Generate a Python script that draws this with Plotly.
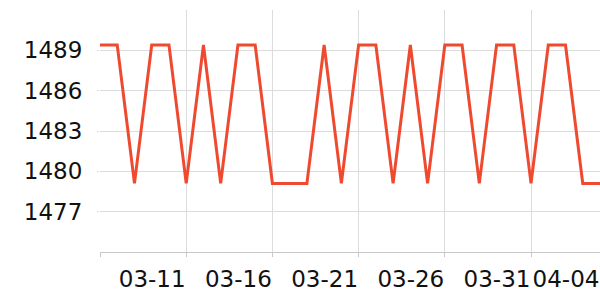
import plotly.graph_objects as go

dates = ["2024-03-06","2024-03-07","2024-03-08","2024-03-09","2024-03-10","2024-03-11",
         "2024-03-12","2024-03-13","2024-03-14","2024-03-15","2024-03-16","2024-03-17",
         "2024-03-18","2024-03-19","2024-03-20","2024-03-21","2024-03-22","2024-03-23",
         "2024-03-24","2024-03-25","2024-03-26","2024-03-27","2024-03-28","2024-03-29",
         "2024-03-30","2024-03-31","2024-04-01","2024-04-02","2024-04-03","2024-04-04"]
H, L = 1489.4, 1479.1
values = [H, H, L, H, H, L, H, L, H, H, L, L, L, H, L, H, H, L, H, L, H, H, L, H, H, L, H, H, L, L]

x_tickvals = ["2024-03-06","2024-03-11","2024-03-16","2024-03-21","2024-03-26","2024-03-31","2024-04-04"]
x_ticktext = ["", "03-11", "03-16", "03-21", "03-26", "03-31", "04-04"]
y_tickvals = [1477, 1480, 1483, 1486, 1489]

fig = go.Figure(go.Scatter(x=dates, y=values, mode="lines",
                           line=dict(color="#ef4a2f", width=3), hoverinfo="skip"))

fig.update_layout(
    width=600, height=300, margin=dict(l=100, r=0, t=10, b=48),
    paper_bgcolor="white", plot_bgcolor="white", showlegend=False,
    font=dict(family="DejaVu Sans", size=23, color="#111"),
)
fig.update_xaxes(range=["2024-03-06", "2024-04-04"], tickvals=x_tickvals, ticktext=x_ticktext,
                 showgrid=True, gridcolor="#dcdcdc", gridwidth=1,
                 showline=True, linecolor="#c8c8c8", linewidth=1,
                 ticks="outside", ticklen=4, tickcolor="#c8c8c8",
                 ticklabelshift=-34, ticklabelstandoff=2, zeroline=False)
fig.update_yaxes(range=[1474, 1492], tickvals=y_tickvals,
                 showgrid=True, gridcolor="#dcdcdc", gridwidth=1,
                 showline=False, ticks="outside", ticklen=2, tickcolor="#dcdcdc",
                 ticklabelstandoff=10, zeroline=False)

fig.write_html("out.html")
